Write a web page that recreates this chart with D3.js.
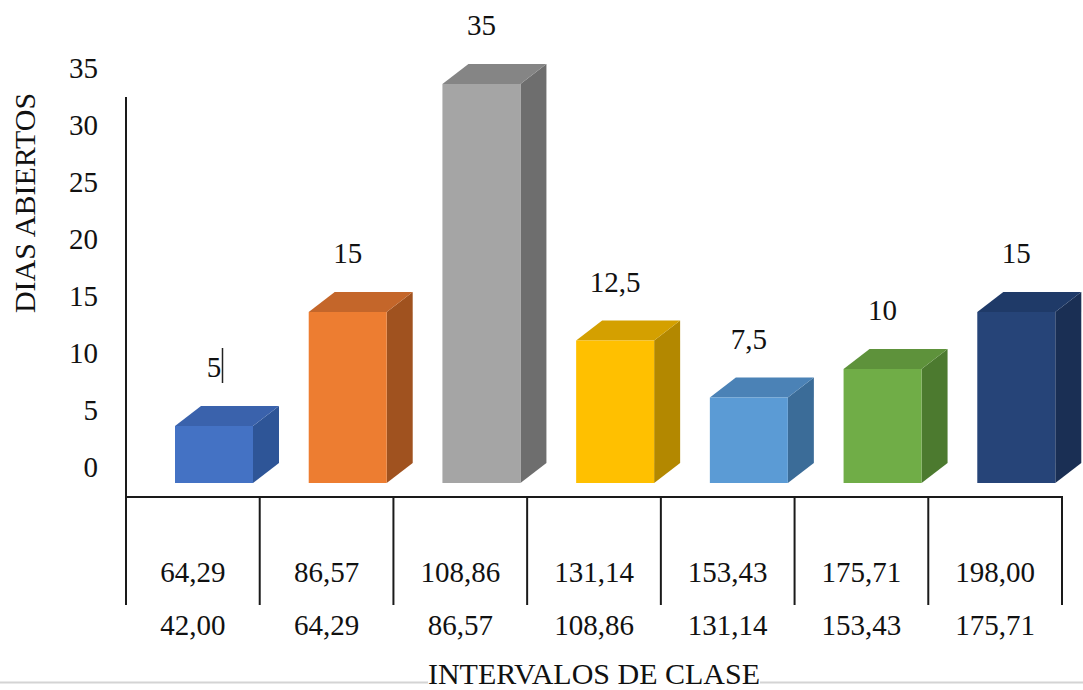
<!DOCTYPE html>
<html><head><meta charset="utf-8">
<script src="https://cdn.jsdelivr.net/npm/d3@7"></script>
<style>
html,body{margin:0;padding:0;background:#fff;}
svg{display:block;}
svg text{font-family:"Liberation Serif","DejaVu Serif",serif;}
</style></head>
<body>
<svg id="c" width="1083" height="690"></svg>
<script>
// ---- data ----
const upperLimits = ["64,29","86,57","108,86","131,14","153,43","175,71","198,00"];
const lowerLimits = ["42,00","64,29","86,57","108,86","131,14","153,43","175,71"];
const values = [5, 15, 35, 12.5, 7.5, 10, 15];
const valueLabels = ["5","15","35","12,5","7,5","10","15"];
const yTicks = [0,5,10,15,20,25,30,35];
const frontColors = ["#4472C4","#ED7D31","#A5A5A5","#FFC000","#5B9BD5","#70AD47","#264478"];
const topColors   = ["#3A62AC","#C4662A","#858585","#D4A000","#4B82B6","#5E923B","#1F3A68"];
const sideColors  = ["#2E5597","#A0521F","#6E6E6E","#B38800","#3B6C98","#4C7A2F","#1A2F54"];

const FONT = "'Liberation Serif','DejaVu Serif',serif";
const svg = d3.select("#c");
const W = 1083, H = 690;
const x = d3.scaleBand().domain(d3.range(values.length)).range([126, 1062]).paddingInner(0).paddingOuter(0);
const y = d3.scaleLinear().domain([0, 35]).range([483, 84]);
const dx = 26, dy = 20;          // 3D depth
const frontOff = 49, frontW = 78; // front face inside band

// bottom gray page line
svg.append("line").attr("x1",0).attr("x2",W).attr("y1",682.5).attr("y2",682.5)
  .attr("stroke","#d4d4d4").attr("stroke-width",2);

// bars
const g = svg.append("g");
values.forEach((v,i)=>{
  const x0 = x(i) + frontOff, x1 = x0 + frontW;
  const yt = y(v), yb = y(0);
  g.append("path").attr("d", d3.line()([[x1,yt],[x1+dx,yt-dy],[x1+dx,yb-dy],[x1,yb]]) + "Z")
    .attr("fill", sideColors[i]);
  g.append("path").attr("d", d3.line()([[x0,yt],[x0+dx,yt-dy],[x1+dx,yt-dy],[x1,yt]]) + "Z")
    .attr("fill", topColors[i]);
  g.append("rect").attr("x",x0).attr("y",yt).attr("width",frontW).attr("height",yb-yt)
    .attr("fill", frontColors[i]);
  svg.append("text").attr("x", x0 + frontW/2).attr("y", yt - 49)
    .attr("text-anchor","middle").attr("font-family",FONT).attr("font-size",29).attr("fill","#111")
    .text(valueLabels[i]);
});
// cursor artifact next to first label
svg.append("line").attr("x1",222.5).attr("x2",222.5).attr("y1",y(values[0])-78).attr("y2",y(values[0])-43)
  .attr("stroke","#222").attr("stroke-width",1.5);

// y tick labels
svg.append("g").selectAll("text").data(yTicks).join("text")
  .attr("x", 98).attr("y", d => y(d) - 6)
  .attr("text-anchor","end").attr("font-family",FONT).attr("font-size",29).attr("fill","#111")
  .text(d => d);

// axes lines
const axisCol = "#1a1a1a";
svg.append("line").attr("x1",126).attr("x2",126).attr("y1",97).attr("y2",605)
  .attr("stroke",axisCol).attr("stroke-width",2);
svg.append("line").attr("x1",125).attr("x2",1063).attr("y1",497).attr("y2",497)
  .attr("stroke",axisCol).attr("stroke-width",2);
const bounds = x.domain().map(i=>x(i)).concat([x.range()[1]]);
svg.append("g").selectAll("line").data(bounds).join("line")
  .attr("x1",d=>d).attr("x2",d=>d).attr("y1",497).attr("y2",605)
  .attr("stroke",axisCol).attr("stroke-width",2);

// category labels (two rows)
svg.append("g").selectAll("text").data(upperLimits).join("text")
  .attr("x",(d,i)=>x(i)+x.bandwidth()/2).attr("y",582)
  .attr("text-anchor","middle").attr("font-family",FONT).attr("font-size",29).attr("fill","#111").text(d=>d);
svg.append("g").selectAll("text").data(lowerLimits).join("text")
  .attr("x",(d,i)=>x(i)+x.bandwidth()/2).attr("y",635)
  .attr("text-anchor","middle").attr("font-family",FONT).attr("font-size",29).attr("fill","#111").text(d=>d);

// axis titles
const xt = svg.append("text").attr("x",594).attr("y",684)
  .attr("text-anchor","middle").attr("font-family",FONT).attr("font-size",30).attr("fill","#111").text("INTERVALOS DE CLASE");
const bb = xt.node().getBBox();
svg.insert("rect", "text").attr("x",bb.x).attr("y",676).attr("width",bb.width).attr("height",14).attr("fill","#fff");
svg.append("text").attr("transform","translate(35,203) rotate(-90)")
  .attr("text-anchor","middle").attr("font-family",FONT).attr("font-size",30).attr("fill","#111").text("DIAS ABIERTOS");
</script>
</body></html>
